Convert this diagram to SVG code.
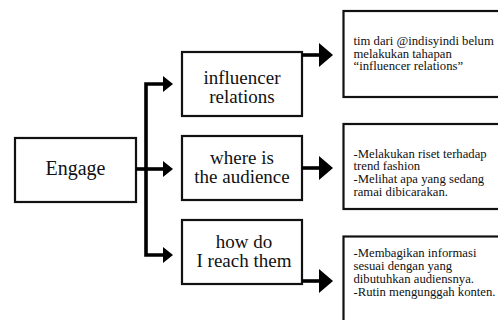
<svg xmlns="http://www.w3.org/2000/svg" width="498" height="320" viewBox="0 0 498 320">
<style>
.box{fill:#fff;stroke:#111;stroke-width:2.2}
.big{font-family:"Liberation Serif","Times New Roman",serif;font-size:19px;fill:#111;text-anchor:middle}
.eng{font-size:20px}
.small{font-family:"Liberation Serif","Times New Roman",serif;font-size:12.7px;fill:#111}
.ln{fill:none;stroke:#000;stroke-width:3.6}
.hd{fill:#000}
</style>
<rect width="498" height="320" fill="#fff"/>
<g id="engage">
<rect class="box" x="15" y="138" width="121" height="64"/>
<text class="big eng" x="75.5" y="175">Engage</text>
</g>
<g id="influencer-relations">
<rect class="box" x="182" y="52" width="120" height="64"/>
<text class="big" x="242" y="84">influencer</text>
<text class="big" x="242" y="103">relations</text>
</g>
<g id="where-is-the-audience">
<rect class="box" x="182" y="136" width="120" height="64"/>
<text class="big" x="242" y="164">where is</text>
<text class="big" x="242" y="183">the audience</text>
</g>
<g id="how-do-i-reach-them">
<rect class="box" x="182" y="220" width="120" height="64"/>
<text class="big" x="244" y="248">how do</text>
<text class="big" x="244" y="267">I reach them</text>
</g>
<g id="note-influencer">
<rect class="box" x="343.5" y="11" width="170" height="86"/>
<text class="small" x="353.5" y="45">tim dari @indisyindi belum</text>
<text class="small" x="353.5" y="57.5">melakukan tahapan</text>
<text class="small" x="353.5" y="70">“influencer relations”</text>
</g>
<g id="note-audience">
<rect class="box" x="343.5" y="124" width="170" height="85"/>
<text class="small" x="353.5" y="157.5">-Melakukan riset terhadap</text>
<text class="small" x="353.5" y="170">trend fashion</text>
<text class="small" x="353.5" y="183">-Melihat apa yang sedang</text>
<text class="small" x="353.5" y="195.5">ramai dibicarakan.</text>
</g>
<g id="note-reach">
<rect class="box" x="343.5" y="236.5" width="170" height="100"/>
<text class="small" x="353.5" y="256.5">-Membagikan informasi</text>
<text class="small" x="353.5" y="269.5">sesuai dengan yang</text>
<text class="small" x="353.5" y="283">dibutuhkan audiensnya.</text>
<text class="small" x="353.5" y="296">-Rutin mengunggah konten.</text>
</g>
<g id="connectors">
<path class="ln" d="M136 169H164"/>
<path class="ln" d="M164 84H146V255H164"/>
<polygon class="hd" points="163,76 173,84 163,92"/>
<polygon class="hd" points="163,161 173,169 163,177"/>
<polygon class="hd" points="163,247 173,255 163,263"/>
<path class="ln" d="M302 55H320"/>
<path class="ln" d="M302 168H320"/>
<path class="ln" d="M302 281H320"/>
<polygon class="hd" points="319,43 333,55 319,67"/>
<polygon class="hd" points="319,156 333,168 319,180"/>
<polygon class="hd" points="319,269 333,281 319,293"/>
</g>
</svg>
